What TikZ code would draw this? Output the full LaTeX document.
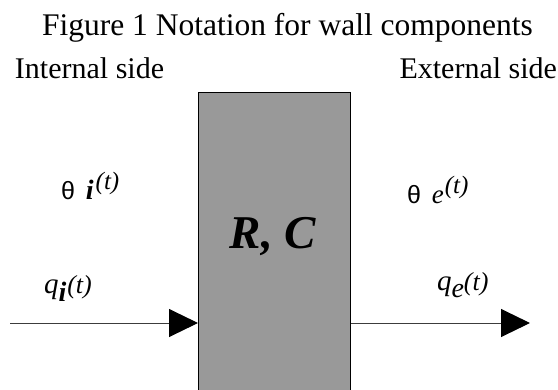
\documentclass[tikz,border=0pt]{standalone}
\usepackage{fontspec}
\setmainfont{Liberation Serif}
\newfontfamily\sansf{Liberation Sans}
\usetikzlibrary{arrows.meta}
\definecolor{wallgray}{RGB}{153,153,153}
\definecolor{linegray}{RGB}{60,60,60}
\newcommand{\fs}[1]{\fontsize{#1}{#1}\selectfont}
\begin{document}
\begin{tikzpicture}[x=1pt,y=-1pt,
  txt/.style={inner sep=0pt, outer sep=0pt},
  wallbox/.style={draw=black, line width=1.2pt, fill=wallgray, inner sep=0pt},
  flow/.style={draw=linegray, line width=1pt, -{Triangle[length=29pt,width=28pt,black]}}]
\useasboundingbox (0,0) rectangle (558,389);
\clip (0,0) rectangle (558,389);
\node[wallbox, minimum width=152pt, minimum height=310pt, anchor=north west] (wall) at (198,92) {};
\node[txt, anchor=base] (title) at (287.5,35) {\fs{31.5}Figure 1 Notation for wall components};
\node[txt, anchor=base west] (intl) at (15,78) {\fs{30}Internal side};
\node[txt, anchor=base east] (extl) at (557,78) {\fs{30}External side};
\node[txt, anchor=base] (rc) at (273,248) {\fs{47}\bfseries\itshape R, C};
\node[txt, anchor=base west] (thi) at (61,199) {{\sansf\fs{25}θ}\hspace{11pt}{\fs{28}\bfseries\itshape i}\hspace{2pt}\raisebox{10pt}{\fs{25}\itshape(t)}};
\node[txt, anchor=base west] (the) at (407,203) {{\sansf\fs{25}θ}\hspace{11pt}{\fs{27}\itshape e}\hspace{1pt}\raisebox{10pt}{\fs{25}\itshape(t)}};
\node[txt, anchor=base west] (qi) at (44,293) {{\fs{29}\itshape q}\raisebox{-8pt}{\fs{28}\bfseries\itshape i}\hspace{1pt}{\fs{26}\itshape(t)}};
\node[txt, anchor=base west] (qe) at (437,290) {{\fs{29}\itshape q}\raisebox{-7pt}{\fs{28}\itshape e}{\fs{26}\itshape(t)}};
\coordinate (inL) at (10,323);
\coordinate (outR) at (530,323);
\draw[flow] (inL) -- (inL -| wall.west);
\draw[flow] (outR -| wall.east) -- (outR);
\end{tikzpicture}
\end{document}
